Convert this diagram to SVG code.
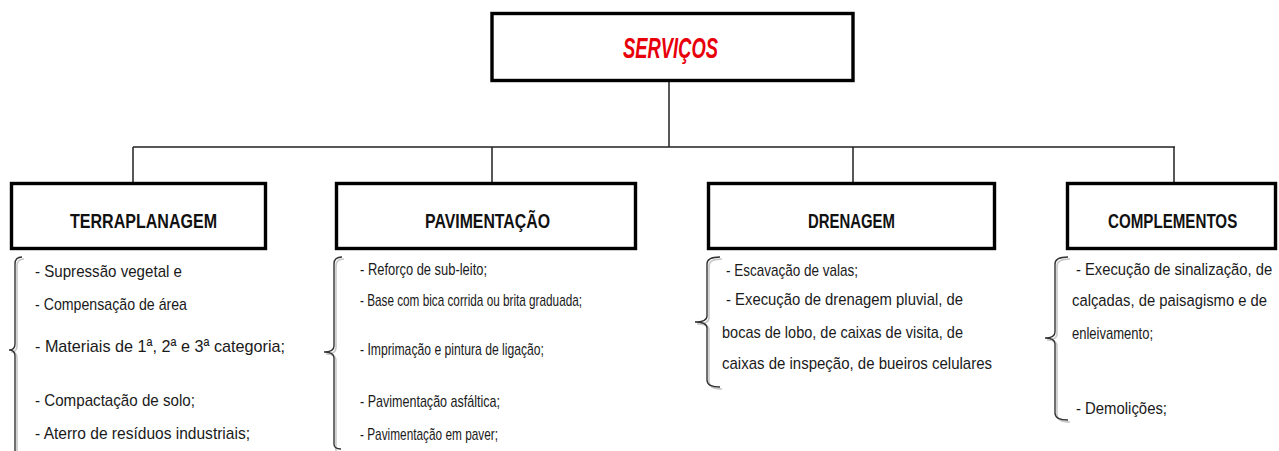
<svg xmlns="http://www.w3.org/2000/svg" width="1279" height="451" viewBox="0 0 1279 451">
<style>
.box{fill:#fff;stroke:#000;stroke-width:3.4}
.conn{fill:none;stroke:#222;stroke-width:1.5}
.brace{fill:none;stroke:#333;stroke-width:1.4}
.shadow{fill:none;stroke:#c8c8c8;stroke-width:1.6}
.title{font-family:"Liberation Sans",Arial,sans-serif;font-weight:bold;font-style:italic;font-size:30px;fill:#e8000b}
.head{font-family:"Liberation Sans",Arial,sans-serif;font-weight:bold;font-size:21px;fill:#111}
.item{font-family:"Liberation Sans",Arial,sans-serif;font-size:17px;fill:#1a1a1a}
</style>
<rect width="1279" height="451" fill="#fff"/>
<g id="connectors">
<path class="conn" d="M669,81 V147 M133,147 H1175 M133,147 V182 M492,147 V182 M853,147 V182 M1174,147 V182"/>
</g>
<g id="servicos">
<rect class="box" x="492" y="13.5" width="361" height="67"/>
<text class="title" x="623" y="58" textLength="95" lengthAdjust="spacingAndGlyphs">SERVIÇOS</text>
</g>
<g id="terraplanagem">
<rect class="box" x="11.5" y="183.5" width="254" height="65"/>
<text class="head" x="70" y="228" textLength="147" lengthAdjust="spacingAndGlyphs">TERRAPLANAGEM</text>
<path class="shadow" d="M24,259 Q17,259 17,266 L17,346 Q17,352 11,352 Q17,352 17,358 L17,451"/>
<path class="brace" d="M22,257 Q15,257 15,264 L15,344 Q15,350 9,350 Q15,350 15,356 L15,451"/>
<text class="item" x="35" y="277" textLength="147" lengthAdjust="spacingAndGlyphs">- Supressão vegetal e</text>
<text class="item" x="35" y="310" textLength="152" lengthAdjust="spacingAndGlyphs">- Compensação de área</text>
<text class="item" x="35" y="352" textLength="250" lengthAdjust="spacingAndGlyphs">- Materiais de 1ª, 2ª e 3ª categoria;</text>
<text class="item" x="35" y="406" textLength="160" lengthAdjust="spacingAndGlyphs">- Compactação de solo;</text>
<text class="item" x="35" y="439" textLength="215" lengthAdjust="spacingAndGlyphs">- Aterro de resíduos industriais;</text>
</g>
<g id="pavimentacao">
<rect class="box" x="336.5" y="183.5" width="299" height="65"/>
<text class="head" x="425" y="228" textLength="125" lengthAdjust="spacingAndGlyphs">PAVIMENTAÇÃO</text>
<path class="shadow" d="M344,259 Q336,259 336,266 L336,348 Q336,354 326,354 Q336,354 336,360 L336,451"/>
<path class="brace" d="M342,257 Q334,257 334,264 L334,346 Q334,352 324,352 Q334,352 334,358 L334,444 Q334,449 341,449"/>
<text class="item" x="360" y="275" textLength="127" lengthAdjust="spacingAndGlyphs">- Reforço de sub-leito;</text>
<text class="item" x="360" y="306" textLength="222" lengthAdjust="spacingAndGlyphs">- Base com bica corrida ou brita graduada;</text>
<text class="item" x="360" y="355" textLength="184" lengthAdjust="spacingAndGlyphs">- Imprimação e pintura de ligação;</text>
<text class="item" x="360" y="407" textLength="140" lengthAdjust="spacingAndGlyphs">- Pavimentação asfáltica;</text>
<text class="item" x="360" y="440" textLength="138" lengthAdjust="spacingAndGlyphs">- Pavimentação em paver;</text>
</g>
<g id="drenagem">
<rect class="box" x="708.5" y="183.5" width="286" height="65"/>
<text class="head" x="808" y="228" textLength="87" lengthAdjust="spacingAndGlyphs">DRENAGEM</text>
<path class="shadow" d="M722,259 Q709,259 709,266 L709,318 Q709,324 697,324 Q709,324 709,330 L709,382 Q709,389 722,389"/>
<path class="brace" d="M720,257 Q707,257 707,264 L707,316 Q707,322 695,322 Q707,322 707,328 L707,380 Q707,387 720,387"/>
<text class="item" x="726" y="276" textLength="132" lengthAdjust="spacingAndGlyphs">- Escavação de valas;</text>
<text class="item" x="726" y="305" textLength="237" lengthAdjust="spacingAndGlyphs">- Execução de drenagem pluvial, de</text>
<text class="item" x="722" y="338" textLength="241" lengthAdjust="spacingAndGlyphs">bocas de lobo, de caixas de visita, de</text>
<text class="item" x="722" y="369" textLength="270" lengthAdjust="spacingAndGlyphs">caixas de inspeção, de bueiros celulares</text>
</g>
<g id="complementos">
<rect class="box" x="1067.5" y="183.5" width="208" height="65"/>
<text class="head" transform="translate(1108,228) scale(0.718,1)" x="0" y="0" textLength="180" lengthAdjust="spacingAndGlyphs">COMPLEMENTOS</text>
<path class="shadow" d="M1070,259 Q1057,259 1057,266 L1057,334 Q1057,340 1047,340 Q1057,340 1057,346 L1057,415 Q1057,422 1070,422"/>
<path class="brace" d="M1068,257 Q1055,257 1055,264 L1055,332 Q1055,338 1045,338 Q1055,338 1055,344 L1055,413 Q1055,420 1068,420"/>
<text class="item" transform="translate(1076,275) scale(0.868,1)" x="0" y="0" textLength="226" lengthAdjust="spacingAndGlyphs">- Execução de sinalização, de</text>
<text class="item" transform="translate(1072,306) scale(0.871,1)" x="0" y="0" textLength="224" lengthAdjust="spacingAndGlyphs">calçadas, de paisagismo e de</text>
<text class="item" x="1072" y="339" textLength="81" lengthAdjust="spacingAndGlyphs">enleivamento;</text>
<text class="item" x="1076" y="414" textLength="91" lengthAdjust="spacingAndGlyphs">- Demolições;</text>
</g>
</svg>
